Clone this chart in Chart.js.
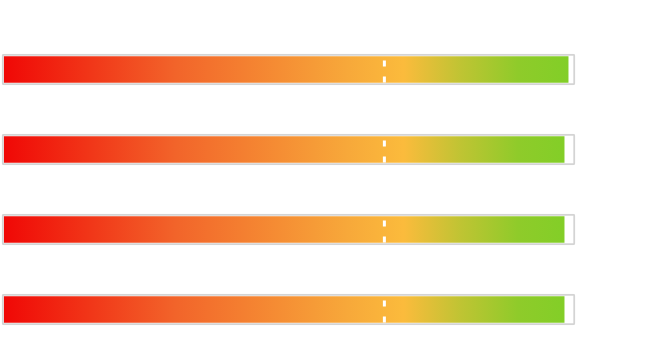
<!DOCTYPE html>
<html>
<head>
<meta charset="utf-8">
<script src="https://cdn.jsdelivr.net/npm/chart.js@4"></script>
<style>
  html, body { margin: 0; padding: 0; background: #fff; }
  #wrap { width: 650px; height: 340px; }
</style>
</head>
<body>
<div id="wrap"><canvas id="gaugeChart"></canvas></div>
<script>
// Chart data
const categories = ['Item 1', 'Item 2', 'Item 3', 'Item 4'];
const values = [98.8, 98.1, 98.1, 98.1];
const maxValues = [100, 100, 100, 100];
const targets = [66.6, 66.6, 66.6, 66.6];

const X_MIN = -0.4;  // lets the frame reach a little past zero

// Dashed white marker at the target value
const targetLines = {
    id: 'targetLines',
    afterDatasetsDraw(chart) {
        const { ctx, scales } = chart;
        ctx.save();
        ctx.strokeStyle = '#ffffff';
        ctx.lineWidth = 3;
        ctx.setLineDash([6, 10]);
        targets.forEach((t, i) => {
            const x = scales.x.getPixelForValue(t);
            const y = scales.y.getPixelForValue(i);
            ctx.beginPath();
            ctx.moveTo(x, y + 13);  // bottom of fill, going up
            ctx.lineTo(x, y - 13);
            ctx.stroke();
        });
        ctx.restore();
    }
};

const ctx = document.getElementById('gaugeChart').getContext('2d');
const gaugeChart = new Chart(ctx, {
    type: 'bar',
    data: {
        labels: categories,
        datasets: [{
            label: 'Value',
            data: values,
            order: 0,
            grouped: false,
            clip: false,
            barThickness: 26,
            borderWidth: 0,
            backgroundColor: (c) => {
                const chart = c.chart;
                if (!chart.chartArea) return '#f7a83a';
                const x0 = chart.scales.x.getPixelForValue(0);
                const x1 = chart.scales.x.getPixelForValue(100);
                const g = chart.ctx.createLinearGradient(x0, 0, x1, 0);
                g.addColorStop(0, '#f00806');
                g.addColorStop(0.3, '#f2642a');
                g.addColorStop(0.6, '#f7a83a');
                g.addColorStop(0.7, '#fbbb3c');
                g.addColorStop(0.8, '#bfc433');
                g.addColorStop(0.9, '#8fcb2a');
                g.addColorStop(1, '#80cf27');
                return g;
            }
        }, {
            label: 'Max',
            data: maxValues.map(m => [X_MIN, m]),
            order: 1,
            grouped: false,
            clip: false,
            barThickness: 31,
            backgroundColor: '#ffffff',
            borderColor: '#d4d4d4',
            borderWidth: 2,
            borderRadius: 2,
            borderSkipped: false
        }]
    },
    options: {
        indexAxis: 'y',
        responsive: true,
        maintainAspectRatio: false,
        animation: false,
        layout: {
            padding: { left: 2, right: 75, top: 69.5, bottom: 30.5 }
        },
        scales: {
            x: { display: false, min: X_MIN, max: 100 },
            y: { display: false, offset: false }
        },
        plugins: {
            legend: { display: false },
            tooltip: { enabled: false }
        }
    },
    plugins: [targetLines]
});
</script>
</body>
</html>
